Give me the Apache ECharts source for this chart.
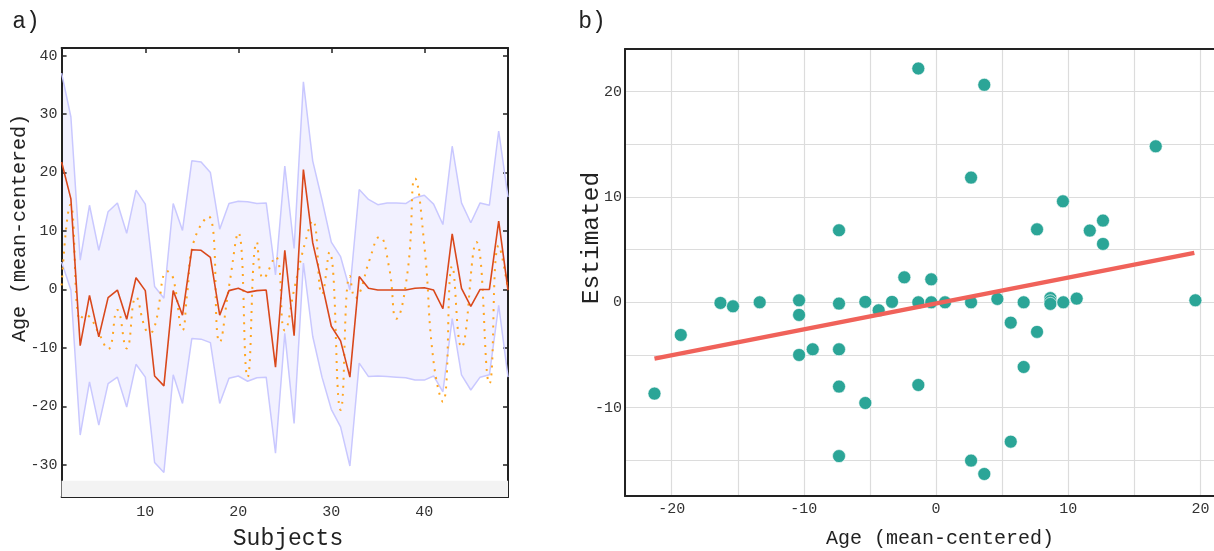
<!DOCTYPE html>
<html>
<head>
<meta charset="utf-8">
<script src="https://cdn.jsdelivr.net/npm/echarts@6/dist/echarts.min.js"></script>
<style>
  html, body { margin: 0; background: #fff; }
  #chart { width: 1214px; height: 551px; }
</style>
</head>
<body>
<div id="chart"></div>
<script>
// panel a) -- per-subject values
const subjects = [1, 2, 3, 4, 5, 6, 7, 8, 9, 10, 11, 12, 13, 14, 15, 16, 17, 18, 19, 20,
  21, 22, 23, 24, 25, 26, 27, 28, 29, 30, 31, 32, 33, 34, 35, 36, 37, 38, 39, 40,
  41, 42, 43, 44, 45, 46, 47, 48, 49];
const upperBand = [37, 29.5, 5.0, 14.4, 6.7, 13.3, 14.8, 9.6, 17.0, 14.6, 0.5, -1.5, 14.7, 10.1,
  22.0, 21.8, 20.0, 10.3, 14.7, 15.1, 15.0, 14.7, 14.8, 2.5, 21.1, 7.0, 35.5, 22.0, 15.3, 8.1,
  5.6, -0.1, 17.1, 15.4, 14.5, 14.8, 14.8, 14.7, 15.7, 16.1, 14.6, 11.1, 24.5, 14.8, 11.4, 14.8,
  14.4, 27.1, 15.8];
const lowerBand = [4.7, -0.1, -24.9, -15.8, -23.2, -16.1, -15.0, -20.1, -12.8, -15.0, -29.6, -31.3,
  -14.6, -19.5, -8.4, -8.5, -9.1, -19.5, -15.2, -14.8, -15.7, -15.1, -15.0, -28.0, -7.5, -22.9,
  4.5, -8.0, -15.0, -20.5, -23.5, -30.2, -12.6, -14.9, -14.8, -14.9, -15.0, -15.1, -15.5, -15.5,
  -14.8, -17.5, -5.0, -14.6, -17.2, -15.0, -14.6, -2.7, -15.0];
const estimateLine = [21.8, 15.5, -9.6, -1.0, -8.1, -1.4, -0.1, -5.1, 2.0, -0.2, -14.8, -16.5,
  -0.2, -4.4, 6.8, 6.7, 5.5, -4.4, -0.2, 0.2, -0.5, -0.2, -0.1, -13.3, 6.7, -7.9, 20.5, 8.0, 1.0,
  -6.3, -8.8, -15.0, 2.2, 0.2, -0.1, -0.1, -0.1, -0.1, 0.2, 0.3, -0.1, -3.3, 9.5, 0.2, -2.9, 0.0,
  0.0, 11.7, -0.1];
// dotted curve, read at its turning points
const dottedX = [1.0, 1.95, 3.0, 3.5, 4.0, 5.0, 6.0, 7.0, 8.0, 9.0, 10.0, 10.5, 11.0, 12.4, 13.0,
  14.0, 14.5, 15.2, 16.8, 18.0, 19.0, 20.0, 21.0, 22.0, 22.7, 24.0, 25.0, 26.1, 27.2, 28.0, 29.0,
  29.8, 31.0, 32.0, 32.6, 33.1, 34.1, 35.2, 36.2, 37.0, 38.2, 39.0, 40.0, 41.0, 42.0, 43.0, 44.0,
  45.6, 47.0, 48.0, 49.0];
const dottedY = [0.7, 14.5, -5.2, -4.4, -4.7, -7.5, -10.2, -3.5, -10.1, -1.3, -6.7, -7.4, -6.4, 3.1,
  1.9, -7.0, -0.7, 8.1, 12.5, -9.0, 0.5, 9.7, -15.0, 8.1, 1.9, 5.6, -7.0, 0.7, 8.1, 11.8, -0.8,
  6.4, -20.6, 2.3, -1.5, -0.4, 5.0, 9.0, 3.9, -5.0, 3.0, 19.0, 7.6, -12.4, -19.2, 4.0, -9.9, 8.1,
  -16.1, 7.5, 0.0];

// panel b) -- scatter and fitted line
const ageX = [-21.3, -19.31, -16.31, -15.36, -13.34, -10.36, -10.36, -10.36, -9.33, -7.34, -7.34,
  -7.34, -7.34, -7.34, -5.35, -5.35, -4.34, -3.33, -2.4, -1.34, -1.34, -1.34, -0.36, -0.36, 0.68,
  2.65, 2.65, 2.65, 3.65, 3.65, 4.64, 5.65, 5.65, 6.63, 6.63, 7.64, 7.64, 8.65, 8.65, 8.65, 9.6,
  9.63, 10.64, 11.63, 12.63, 12.63, 16.62, 19.62];
const estimated = [-8.67, -3.1, -0.06, -0.38, 0.0, 0.19, -1.2, -5.0, -4.46, -0.12, -4.46, -8.0,
  -14.6, 6.84, 0.04, -9.56, -0.76, 0.04, 2.37, 22.2, 0.0, -7.85, 2.18, 0.0, 0.0, 11.84, 0.0,
  -15.03, 20.65, -16.3, 0.32, -1.93, -13.23, 0.0, -6.14, 6.93, -2.81, 0.4, 0.1, -0.15, 9.59, 0.0,
  0.35, 6.81, 7.76, 5.54, 14.81, 0.19];
const fitX = [-21.3, 19.54];
const fitY = [-5.35, 4.69];

const FONT = 'Liberation Mono';
const INK = '#222';

const frameAxis = {
  axisLine: { show: true, onZero: false, lineStyle: { color: INK, width: 2 } },
  splitLine: { show: false },
};
const tenOnly = (v) => (Math.abs(v % 10) < 1e-6 ? String(v) : '');

const aX = { min: 1, max: 49, minInterval: 10, maxInterval: 10 };
const aY = { min: -35.5, max: 41.3, minInterval: 10, maxInterval: 10 };
const aTick = { show: true, inside: true, length: 5, lineStyle: { color: INK, width: 1.5 } };
const bX = { min: -23.53, max: 24.13, minInterval: 5, maxInterval: 5 };
const bY = { min: -18.39, max: 24.05, minInterval: 5, maxInterval: 5 };
const bGrid = { show: true, lineStyle: { color: '#dcdcdc', width: 1.2 } };
const labelStyle = { color: '#333', fontFamily: FONT, fontSize: 15 };

const title = (text, x, y, size, rotation) => ({
  type: 'text',
  x,
  y,
  rotation: rotation || 0,
  style: {
    text,
    fill: INK,
    fontFamily: FONT,
    fontSize: size,
    align: 'center',
    verticalAlign: 'middle',
    textAlign: 'center',
    textVerticalAlign: 'middle',
  },
});

// band between lower and upper, drawn as one polygon on the axis scales
const renderBand = (params, api) => {
  const top = subjects.map((s, i) => api.coord([s, upperBand[i]]));
  const bottom = subjects.map((s, i) => api.coord([s, lowerBand[i]])).reverse();
  return {
    type: 'polygon',
    shape: { points: top.concat(bottom) },
    style: { fill: '#f2f1ff' },
  };
};

const chart = echarts.init(document.getElementById('chart'));
chart.setOption({
  backgroundColor: '#fff',
  animation: false,
  grid: [
    { left: 61.6, top: 48, width: 446.4, height: 449, outerBoundsMode: 'none' },
    { left: 625, top: 49, width: 630, height: 447, outerBoundsMode: 'none' },
  ],
  graphic: [
    title('a)', 26, 22, 23),
    title('b)', 592, 22, 23),
    title('Age (mean-centered)', 20, 228, 20, Math.PI / 2),
    title('Subjects', 288, 539, 23),
    title('Estimated', 592, 238, 24.5, Math.PI / 2),
    title('Age (mean-centered)', 940, 539, 20),
  ],
  xAxis: [
    {
      type: 'value', gridIndex: 0, position: 'bottom', ...aX, ...frameAxis,
      axisTick: aTick,
      axisLabel: { ...labelStyle, margin: 8, formatter: tenOnly },
    },
    {
      type: 'value', gridIndex: 0, position: 'top', ...aX, ...frameAxis,
      axisTick: aTick,
      axisLabel: { show: false },
    },
    {
      type: 'value', gridIndex: 1, position: 'bottom', ...bX, ...frameAxis,
      splitLine: bGrid,
      axisTick: { show: false },
      axisLabel: { ...labelStyle, margin: 6, formatter: tenOnly },
    },
    {
      type: 'value', gridIndex: 1, position: 'top', ...bX, ...frameAxis,
      axisTick: { show: false },
      axisLabel: { show: false },
    },
  ],
  yAxis: [
    {
      type: 'value', gridIndex: 0, position: 'left', ...aY, ...frameAxis,
      axisTick: aTick,
      axisLabel: { ...labelStyle, margin: 4, formatter: tenOnly },
    },
    {
      type: 'value', gridIndex: 0, position: 'right', ...aY, ...frameAxis,
      axisTick: aTick,
      axisLabel: { show: false },
    },
    {
      type: 'value', gridIndex: 1, position: 'left', ...bY, ...frameAxis,
      splitLine: bGrid,
      axisTick: { show: false },
      axisLabel: { ...labelStyle, margin: 3, formatter: tenOnly },
    },
  ],
  series: [
    {
      name: 'band',
      type: 'custom',
      xAxisIndex: 0,
      yAxisIndex: 0,
      silent: true,
      data: [0],
      renderItem: renderBand,
      markArea: {
        silent: true,
        itemStyle: { color: '#f3f3f3' },
        data: [[{ yAxis: -35.5 }, { yAxis: -32.7 }]],
      },
      z: 0,
    },
    {
      name: 'lower',
      type: 'line',
      xAxisIndex: 0,
      yAxisIndex: 0,
      symbol: 'none',
      data: subjects.map((s, i) => [s, lowerBand[i]]),
      lineStyle: { color: '#c9c8ff', width: 1.5 },
      z: 1,
    },
    {
      name: 'upper',
      type: 'line',
      xAxisIndex: 0,
      yAxisIndex: 0,
      symbol: 'none',
      data: subjects.map((s, i) => [s, upperBand[i]]),
      lineStyle: { color: '#c9c8ff', width: 1.5 },
      z: 2,
    },
    {
      name: 'dotted',
      type: 'line',
      xAxisIndex: 0,
      yAxisIndex: 0,
      symbol: 'none',
      smooth: 0.5,
      data: dottedX.map((x, i) => [x, dottedY[i]]),
      lineStyle: { color: '#ffa51f', width: 2, type: [2, 6] },
      z: 3,
    },
    {
      name: 'estimate',
      type: 'line',
      xAxisIndex: 0,
      yAxisIndex: 0,
      symbol: 'none',
      data: subjects.map((s, i) => [s, estimateLine[i]]),
      lineStyle: { color: '#d9481c', width: 1.6 },
      z: 4,
    },
    {
      name: 'points',
      type: 'scatter',
      xAxisIndex: 2,
      yAxisIndex: 2,
      symbolSize: 13,
      data: ageX.map((x, i) => [x, estimated[i]]),
      itemStyle: { color: '#2ba597', borderColor: 'rgba(255,255,255,0.6)', borderWidth: 1, opacity: 1 },
      z: 3,
    },
    {
      name: 'fit',
      type: 'line',
      xAxisIndex: 2,
      yAxisIndex: 2,
      symbol: 'none',
      data: fitX.map((x, i) => [x, fitY[i]]),
      lineStyle: { color: '#f0625a', width: 4.5 },
      z: 4,
    },
  ],
});
</script>
</body>
</html>
